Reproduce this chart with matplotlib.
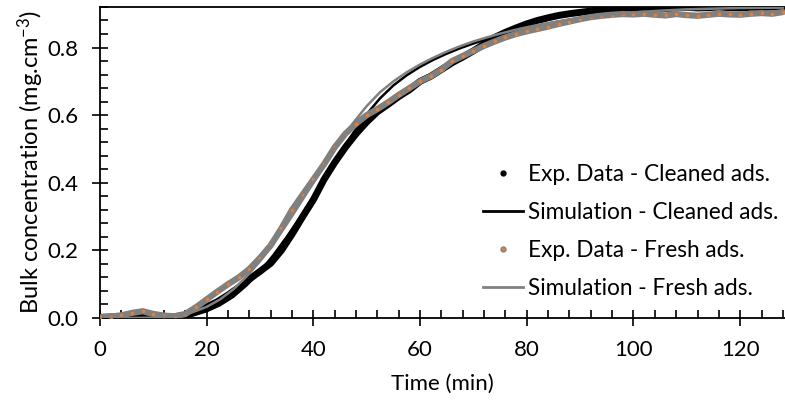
import numpy as np
import matplotlib
matplotlib.use("Agg")
import matplotlib.pyplot as plt
from matplotlib.lines import Line2D
from matplotlib.ticker import MultipleLocator, FormatStrFormatter

plt.rcParams['font.family'] = ['Lato', 'DejaVu Sans']
plt.rcParams['mathtext.default'] = 'regular'

# experimental data (every 2 min)
t_exp = np.arange(0, 130, 2)
exp_cleaned = [0.002, 0.003, 0.001, 0.004, 0.006, 0.003, 0.002, 0.004, 0.008, 0.018,
               0.033, 0.048, 0.068, 0.09, 0.115, 0.138, 0.162, 0.2, 0.248, 0.30,
               0.35, 0.41, 0.46, 0.505, 0.545, 0.58, 0.61, 0.632, 0.655, 0.675,
               0.70, 0.715, 0.735, 0.755, 0.772, 0.79, 0.81, 0.83, 0.845, 0.858,
               0.87, 0.88, 0.888, 0.895, 0.9, 0.904, 0.908, 0.912, 0.914, 0.916,
               0.915, 0.917, 0.918, 0.916, 0.918, 0.919, 0.917, 0.918, 0.92, 0.918,
               0.917, 0.919, 0.918, 0.92, 0.919]
exp_fresh = [0.002, 0.004, 0.008, 0.015, 0.02, 0.012, 0.007, 0.005, 0.012, 0.032,
             0.055, 0.078, 0.1, 0.12, 0.145, 0.178, 0.215, 0.265, 0.32, 0.365,
             0.41, 0.455, 0.505, 0.545, 0.575, 0.60, 0.618, 0.638, 0.66, 0.68,
             0.70, 0.715, 0.735, 0.76, 0.775, 0.79, 0.805, 0.818, 0.83, 0.84,
             0.848, 0.855, 0.862, 0.87, 0.877, 0.884, 0.89, 0.894, 0.897, 0.899,
             0.898, 0.9, 0.897, 0.895, 0.899, 0.896, 0.894, 0.897, 0.9, 0.898,
             0.897, 0.9, 0.902, 0.9, 0.905]

# simulations
t_sim = [0, 5, 10, 12.5, 15, 17.5, 20, 22.5, 25, 27.5, 30, 32.5, 35, 37.5, 40, 42.5,
         45, 47.5, 50, 52.5, 55, 57.5, 60, 62.5, 65, 67.5, 70, 72.5, 75, 77.5, 80,
         82.5, 85, 87.5, 90, 95, 100, 105, 110, 115, 120, 128]
sim_cleaned = [0, 0, 0, 0.0005, 0.002, 0.008, 0.02, 0.038, 0.063, 0.097, 0.138, 0.186,
               0.24, 0.298, 0.36, 0.423, 0.487, 0.548, 0.603, 0.65, 0.688, 0.718, 0.743,
               0.764, 0.782, 0.798, 0.812, 0.825, 0.837, 0.847, 0.857, 0.866, 0.874,
               0.881, 0.887, 0.897, 0.904, 0.909, 0.913, 0.915, 0.917, 0.918]
sim_fresh = [0, 0, 0.001, 0.003, 0.008, 0.018, 0.033, 0.055, 0.085, 0.123, 0.168, 0.22,
             0.277, 0.338, 0.40, 0.462, 0.522, 0.578, 0.627, 0.668, 0.70, 0.727, 0.75,
             0.77, 0.788, 0.804, 0.818, 0.83, 0.841, 0.851, 0.86, 0.868, 0.875, 0.882,
             0.888, 0.897, 0.904, 0.909, 0.913, 0.915, 0.917, 0.918]

grey = '#808080'
orange = '#ED7D31'

fig = plt.figure(figsize=(7.85, 4.05), dpi=100)
ax = fig.add_axes([0.1274, 0.2148, 0.8726, 0.768])

ax.plot(t_exp, exp_cleaned, color='black', lw=5, solid_capstyle='round', zorder=2)
ax.plot(t_sim, sim_cleaned, color='black', lw=1.8, zorder=3)
ax.plot(t_exp, exp_fresh, color=grey, lw=4.5, solid_capstyle='round', zorder=4)
ax.plot(t_exp, exp_fresh, ls='none', marker='o', ms=1.6, color=orange, zorder=5)
ax.plot(t_sim, sim_fresh, color=grey, lw=1.8, zorder=6)

ax.set_xlim(0, 128.4)
ax.set_ylim(0, 0.92)
ax.xaxis.set_major_locator(MultipleLocator(20))
ax.xaxis.set_minor_locator(MultipleLocator(4))
ax.yaxis.set_major_locator(MultipleLocator(0.2))
ax.yaxis.set_minor_locator(MultipleLocator(0.04))
ax.yaxis.set_major_formatter(FormatStrFormatter('%.1f'))
ax.tick_params(which='major', direction='inout', length=11.5, width=1.2, pad=10, labelsize=16)
ax.tick_params(which='minor', direction='in', length=5.8, width=1.2)
ax.spines['right'].set_visible(False)
for s in ['left', 'bottom', 'top']:
    ax.spines[s].set_linewidth(1.3)

ax.set_xlabel('Time (min)', fontsize=16, labelpad=10)
ax.set_ylabel('Bulk concentration (mg.cm$^{-3}$)', fontsize=17, labelpad=1)

handles = [
    Line2D([], [], ls='none', marker='o', ms=3.5, color='black'),
    Line2D([], [], color='black', lw=2),
    Line2D([], [], ls='none', marker='o', ms=3.5, color=grey, markeredgecolor=grey,
           markerfacecolor=orange),
    Line2D([], [], color=grey, lw=2),
]
labels = ['Exp. Data - Cleaned ads.', 'Simulation - Cleaned ads.',
          'Exp. Data - Fresh ads.', 'Simulation - Fresh ads.']
ax.legend(handles, labels, loc='upper left', bbox_to_anchor=(0.559, 0.495),
          frameon=False, fontsize=16.3, handlelength=1.75, handletextpad=0.22,
          labelspacing=0.75, borderaxespad=0, borderpad=0)

fig.savefig('out.png', dpi=100)
